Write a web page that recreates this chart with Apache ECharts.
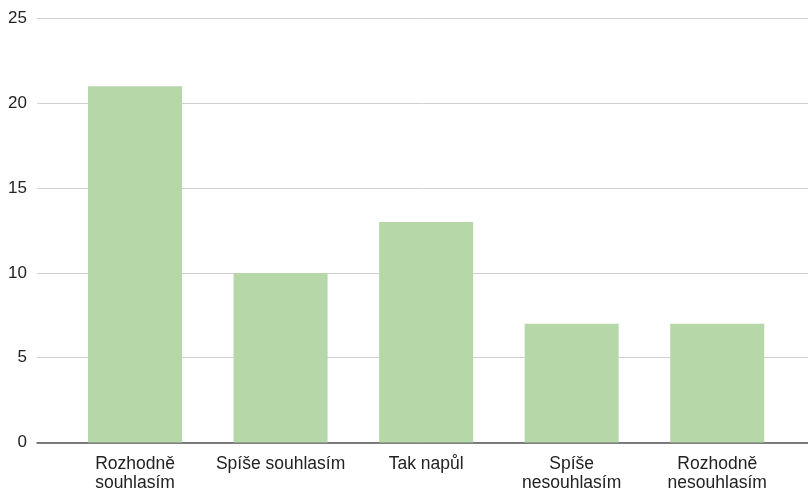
<!DOCTYPE html>
<html>
<head>
<meta charset="utf-8">
<script src="https://cdn.jsdelivr.net/npm/echarts@6/dist/echarts.min.js"></script>
<style>
  html, body { margin: 0; padding: 0; background: #fff; }
  #chart { width: 808px; height: 489px; }
</style>
</head>
<body>
<div id="chart"></div>
<script>
// Survey answers and number of respondents per answer
const categories = ['Rozhodně\nsouhlasím', 'Spíše souhlasím', 'Tak napůl', 'Spíše\nnesouhlasím', 'Rozhodně\nnesouhlasím'];
const counts = [21, 10, 13, 7, 7];
const yTicks = { min: 0, max: 25, interval: 5 };

const FONT = '"Liberation Sans", Arial, sans-serif';
const chart = echarts.init(document.getElementById('chart'), null, { renderer: 'canvas' });

const plotTop = 18.5, plotBottom = 46.5;

chart.setOption({
  animation: false,
  grid: [
    // full-width grid carrying the value labels, gridlines and baseline
    { left: 37, right: 0, top: plotTop, bottom: plotBottom, outerBoundsMode: 'none', containLabel: false },
    // inset grid holding the bars
    { left: 62.25, right: 18, top: plotTop, bottom: plotBottom, outerBoundsMode: 'none', containLabel: false }
  ],
  xAxis: [
    {
      gridIndex: 0, type: 'value', min: 0, max: 1,
      axisLine: { show: true, lineStyle: { color: '#555', width: 1.5 } },
      axisTick: { show: false }, axisLabel: { show: false }, splitLine: { show: false }
    },
    {
      gridIndex: 1, type: 'category', data: categories,
      axisLine: { show: false }, axisTick: { show: false },
      axisLabel: {
        color: '#222', fontFamily: FONT, fontSize: 17.5, lineHeight: 19.5,
        margin: 11.5, interval: 0, align: 'center'
      }
    }
  ],
  yAxis: [
    {
      gridIndex: 0, type: 'value', min: yTicks.min, max: yTicks.max, interval: yTicks.interval,
      axisLine: { show: false }, axisTick: { show: false },
      axisLabel: { color: '#222', fontFamily: FONT, fontSize: 17, margin: 10 },
      splitLine: { lineStyle: { color: '#d0d0d0', width: 1 } }
    },
    {
      gridIndex: 1, type: 'value', min: yTicks.min, max: yTicks.max, interval: yTicks.interval,
      show: false
    }
  ],
  series: [{
    type: 'bar',
    xAxisIndex: 1, yAxisIndex: 1,
    data: counts,
    barCategoryGap: '35.4%',
    itemStyle: { color: '#b6d7a8' },
    z: 1
  }]
});
</script>
</body>
</html>
